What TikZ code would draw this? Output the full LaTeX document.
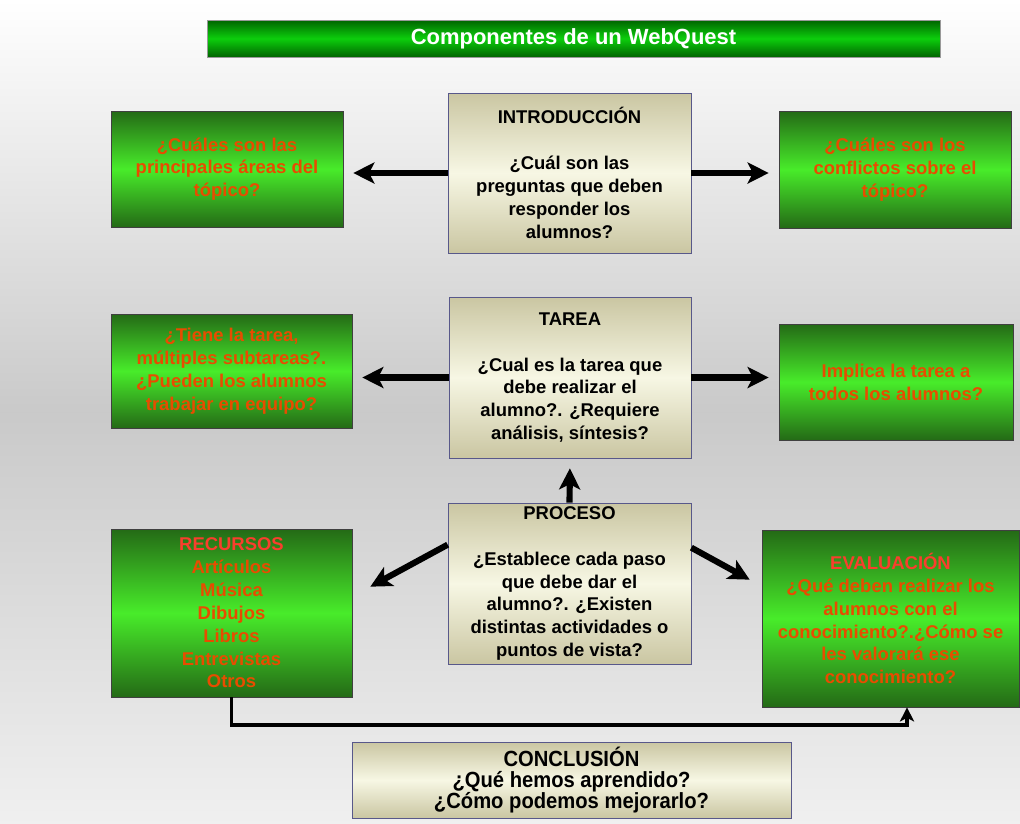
\documentclass[tikz,border=0pt]{standalone}
\usepackage{fontspec}
\setmainfont{Liberation Sans}
\newfontfamily\narrowfont[FakeStretch=0.92]{Liberation Sans}
\usepackage{xcolor}
\usetikzlibrary{arrows.meta,positioning}
\definecolor{brightgreen}{RGB}{72,236,42}
\definecolor{darkgreen}{RGB}{36,106,22}
\definecolor{titlegreen}{RGB}{12,206,12}
\definecolor{titledark}{RGB}{0,100,0}
\definecolor{textorange}{RGB}{232,76,0}
\definecolor{headred}{RGB}{250,62,45}
\definecolor{beigemid}{RGB}{247,247,228}
\definecolor{beigeedge}{RGB}{202,198,162}
\definecolor{beigeborder}{RGB}{88,88,138}

\begin{document}
\begin{tikzpicture}[x=0.02cm,y=-0.02cm,
          greenbox/.style={draw=black!75,rectangle,top color=darkgreen,bottom color=darkgreen,middle color=brightgreen,
                           text=textorange,align=center,inner sep=0pt,font=\bfseries\fontsize{10.5}{13}\selectfont},
          beigebox/.style={draw=beigeborder,rectangle,top color=beigeedge,bottom color=beigeedge,middle color=beigemid,
                           align=center,inner sep=0pt,font=\bfseries\fontsize{10.5}{13}\selectfont},
          titlebar/.style={draw=black!40,rectangle,top color=titledark,bottom color=titledark,middle color=titlegreen,
                           text=white,inner sep=0pt,font=\bfseries\fontsize{12.5}{14}\selectfont},
          arr/.style={line width=3.5pt,-{Stealth[length=12pt,width=12pt,inset=3pt]},shorten >=0.2cm}]
        \shade[top color=white,bottom color=white!94!black,middle color=black!21] (0,0) rectangle (1020,823);
        \useasboundingbox (0,0) rectangle (1020,823);
        \node[titlebar,minimum width=14.66cm,minimum height=0.74cm] (title) at (573.5,38.5) {Componentes de un WebQuest};
        \node[greenbox,minimum width=4.64cm,minimum height=2.32cm] (areas) at (227,169)
              {¿Cuáles son las\\principales áreas del\\tópico?};
        \node[beigebox,minimum width=4.86cm,minimum height=3.2cm] (intro) at (569.5,173)
              {INTRODUCCIÓN\\[13pt]¿Cuál son las\\preguntas que deben\\responder los\\alumnos?};
        \node[greenbox,minimum width=4.64cm,minimum height=2.34cm] (conflictos) at (895,169.5)
              {¿Cuáles son los\\conflictos sobre el\\tópico?};
        \node[greenbox,minimum width=4.82cm,minimum height=2.28cm] (subtareas) at (231.5,371)
              {¿Tiene la tarea,\\múltiples subtareas?.\\¿Pueden los alumnos\\trabajar en equipo?};
        \node[beigebox,minimum width=4.84cm,minimum height=3.22cm] (tarea) at (570,377.5)
              {TAREA\\[13pt]¿Cual es la tarea que\\debe realizar el\\alumno?. ¿Requiere\\análisis, síntesis?};
        \node[greenbox,minimum width=4.68cm,minimum height=2.32cm] (implica) at (896,382)
              {Implica la tarea a\\todos los alumnos?};
        \node[greenbox,minimum width=4.82cm,minimum height=3.36cm] (recursos) at (231.5,613)
              {\textcolor{headred}{RECURSOS}\\Artículos\\Música\\Dibujos\\Libros\\Entrevistas\\Otros};
        \node[beigebox,minimum width=4.86cm,minimum height=3.22cm] (proceso) at (569.5,583.5)
              {PROCESO\\[13pt]¿Establece cada paso\\que debe dar el\\alumno?. ¿Existen\\distintas actividades o\\puntos de vista?};
        \node[greenbox,minimum width=5.14cm,minimum height=3.54cm] (evaluacion) at (890.5,618.5)
              {\textcolor{headred}{EVALUACIÓN}\\¿Qué deben realizar los\\alumnos con el\\conocimiento?.¿Cómo se\\les valorará ese\\conocimiento?};
        \node[beigebox,minimum width=8.78cm,minimum height=1.52cm,font=\narrowfont\bfseries\fontsize{12.5}{12.2}\selectfont] (conclusion) at (571.5,780)
              {CONCLUSIÓN\\¿Qué hemos aprendido?\\¿Cómo podemos mejorarlo?};
        \draw[arr] (intro.west) -- (intro.west -| areas.east);
        \draw[arr] (intro.east) -- (intro.east -| conflictos.west);
        \draw[arr] (tarea.west) -- (tarea.west -| subtareas.east);
        \draw[arr] (tarea.east) -- (tarea.east -| implica.west);
        \draw[arr] (proceso.north) -- (tarea.south);
        \draw[arr,shorten >=0pt] ([yshift=-0.84cm]proceso.north west) -- ([xshift=0.36cm,yshift=-1.16cm]recursos.north east);
        \draw[arr,shorten >=0pt] ([yshift=-0.9cm]proceso.north east) -- ([xshift=-0.24cm,yshift=-1.0cm]evaluacion.north west);
        \draw[line width=2.2pt,-{Stealth[length=8pt,width=8pt,inset=2pt]}] (recursos.south) -- ++(0,28) -| ([xshift=0.33cm]evaluacion.south);
      \end{tikzpicture}
\end{document}
